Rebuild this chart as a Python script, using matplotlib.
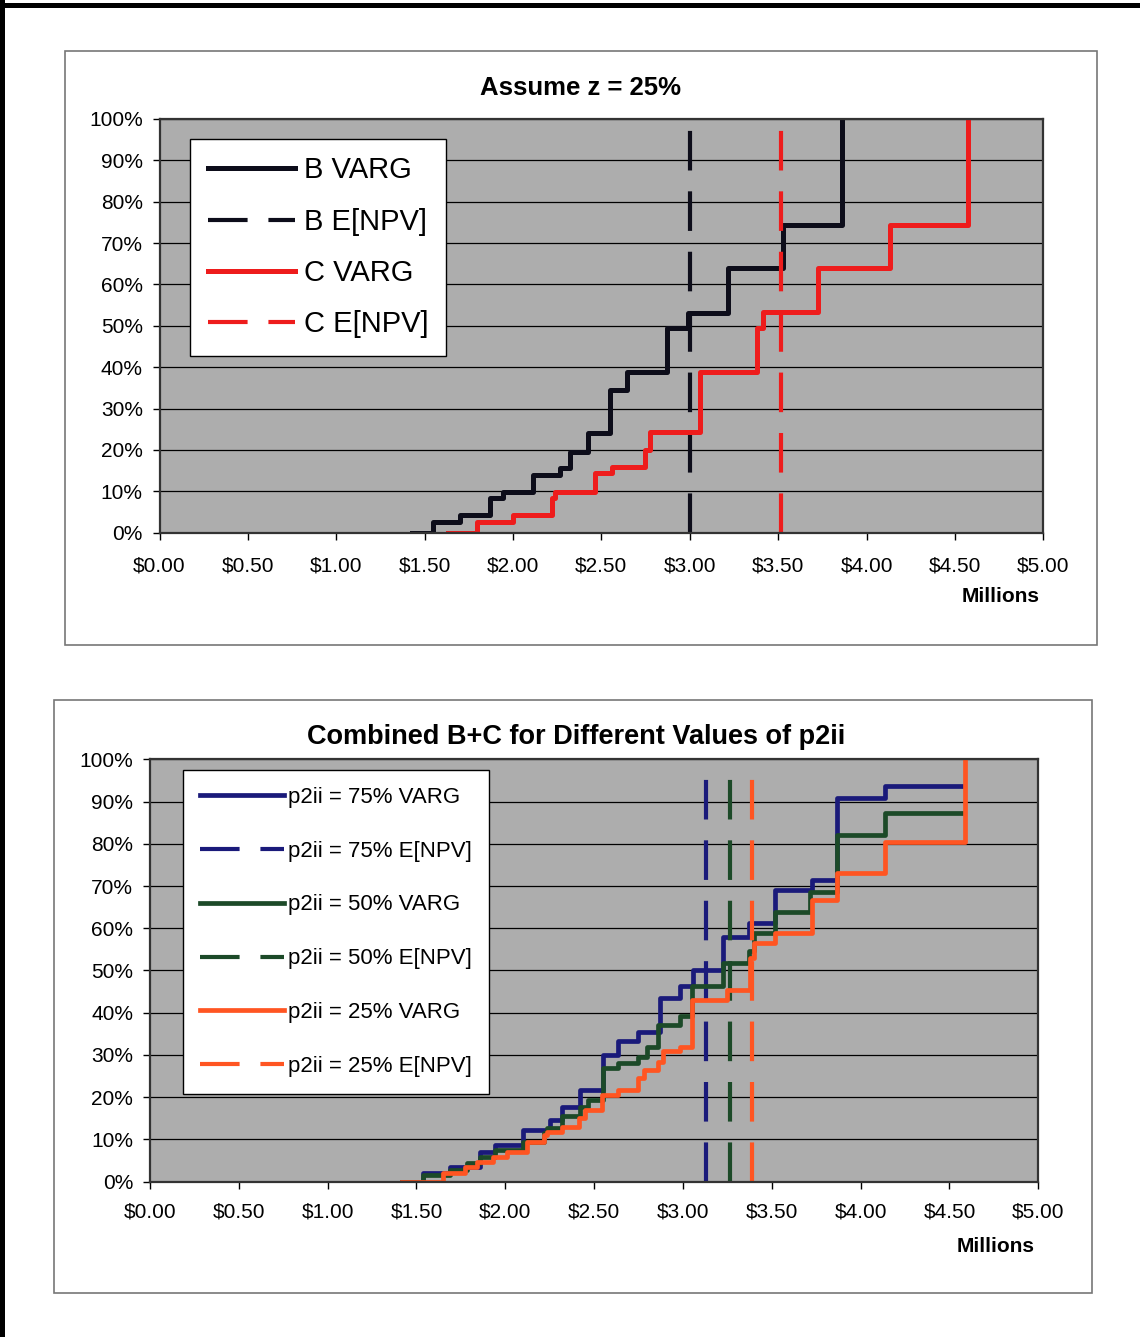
import numpy as np
import matplotlib
matplotlib.use("Agg")
import matplotlib.pyplot as plt
from matplotlib.patches import Rectangle
from matplotlib.ticker import FuncFormatter, MultipleLocator

plt.rcParams['font.family'] = ['Liberation Sans', 'DejaVu Sans']

# --------- data (values in $ millions, cumulative %) ---------
# top chart: z = 25%
b_varg_x = [1.426, 1.549, 1.700, 1.869, 1.945, 2.114, 2.265, 2.322, 2.425, 2.548,
            2.643, 2.869, 2.989, 3.217, 3.528, 3.859]
b_varg_p = [0, 2.7, 4.3, 8.3, 9.9, 13.9, 15.6, 19.6, 24.0, 34.5,
            38.9, 49.4, 53.0, 63.9, 74.4, 100]
c_varg_x = [1.633, 1.794, 2.001, 2.218, 2.237, 2.463, 2.558, 2.746, 2.774, 3.057,
            3.378, 3.415, 3.726, 4.132, 4.575]
c_varg_p = [0, 2.7, 4.3, 8.3, 9.9, 14.4, 16.0, 20.0, 24.4, 38.9,
            49.4, 53.4, 63.9, 74.4, 100]
b_enpv = 3.00
c_enpv = 3.515

# bottom chart: combined B+C
p75_x = [1.417, 1.539, 1.689, 1.858, 1.943, 2.102, 2.252, 2.318, 2.421, 2.552, 2.637,
         2.745, 2.872, 2.984, 3.059, 3.228, 3.369, 3.519, 3.726, 3.867, 4.139, 4.570]
p75_p = [0, 1.9, 3.5, 7.1, 8.6, 12.2, 14.6, 17.7, 21.7, 30.0, 33.3,
         35.5, 43.4, 46.2, 50.1, 58.0, 61.2, 69.1, 71.4, 90.8, 93.6, 93.6]
p50_x = [1.417, 1.539, 1.689, 1.783, 1.858, 1.943, 2.102, 2.215, 2.234, 2.318, 2.421,
         2.468, 2.552, 2.637, 2.749, 2.797, 2.862, 2.984, 3.050, 3.228, 3.369, 3.397,
         3.519, 3.716, 3.867, 4.139, 4.570]
p50_p = [0, 1.5, 2.7, 4.3, 5.9, 7.5, 9.4, 11.4, 12.6, 15.4, 17.7,
         19.3, 26.8, 28.0, 29.6, 31.9, 37.1, 39.1, 46.2, 51.7, 54.5, 58.8,
         63.9, 68.7, 82.1, 87.3, 87.3]
p25_x = [1.417, 1.651, 1.774, 1.840, 1.933, 2.008, 2.121, 2.215, 2.234, 2.318, 2.412,
         2.449, 2.543, 2.637, 2.749, 2.778, 2.862, 2.890, 2.984, 3.050, 3.247, 3.378,
         3.397, 3.519, 3.726, 3.867, 4.139, 4.589]
p25_p = [0, 1.9, 3.5, 4.7, 5.9, 7.1, 9.4, 11.0, 11.8, 13.0, 15.0,
         16.9, 20.5, 21.7, 24.5, 26.4, 28.4, 30.8, 31.9, 43.0, 45.4, 52.9,
         56.4, 58.8, 66.7, 73.0, 80.5, 100]
p75_enpv = 3.131
p50_enpv = 3.262
p25_enpv = 3.391

BLACK = '#0d0d1a'
RED = '#ee1c1c'
NAVY = '#1a1a7a'
GREEN = '#1c4a28'
ORANGE = '#ff5522'
GREY = '#adadad'

W, H = 1140, 1337
fig = plt.figure(figsize=(W / 100, H / 100), dpi=100)
fig.patch.set_facecolor('white')


def fx(px):
    return px / W


def fy(py):
    return 1 - py / H


# page border (top + left) and chart frames
fig.add_artist(Rectangle((0, fy(8)), 1, 5 / H, transform=fig.transFigure,
                         facecolor='black', edgecolor='none'))
fig.add_artist(Rectangle((0, 0), 5 / W, 1, transform=fig.transFigure,
                         facecolor='black', edgecolor='none'))
fig.add_artist(Rectangle((fx(65), fy(645)), (1097 - 65) / W, (645 - 51) / H,
                         transform=fig.transFigure, fill=False, edgecolor='#777777', lw=1.2))
fig.add_artist(Rectangle((fx(54), fy(1293)), (1092 - 54) / W, (1293 - 700) / H,
                         transform=fig.transFigure, fill=False, edgecolor='#777777', lw=1.2))


def style_axes(ax, xpad):
    ax.set_facecolor(GREY)
    ax.set_xlim(0, 5)
    ax.set_ylim(0, 100)
    ax.xaxis.set_major_locator(MultipleLocator(0.5))
    ax.yaxis.set_major_locator(MultipleLocator(10))
    ax.xaxis.set_major_formatter(FuncFormatter(lambda v, p: f"${v:.2f}"))
    ax.yaxis.set_major_formatter(FuncFormatter(lambda v, p: f"{v:.0f}%"))
    ax.grid(True, axis='y', color='black', lw=0.9)
    ax.set_axisbelow(True)
    for s in ax.spines.values():
        s.set_color('#333333')
        s.set_linewidth(1.6)
    ax.tick_params(axis='x', length=5, width=1, pad=xpad, labelsize=15)
    ax.tick_params(axis='y', length=5, width=1, pad=7, labelsize=15)


DASH = (9.5, 5)

# ---------------- top chart ----------------
ax1 = fig.add_axes([fx(159.5), fy(532.7), (1043.3 - 159.5) / W, (532.7 - 119) / H])
style_axes(ax1, 12)
ax1.plot(b_varg_x, b_varg_p, drawstyle='steps-post', color=BLACK, lw=3.6, label='B VARG')
ax1.plot([b_enpv, b_enpv], [0, 100], color=BLACK, lw=3.0, dashes=DASH, label='B E[NPV]')
ax1.plot(c_varg_x, c_varg_p, drawstyle='steps-post', color=RED, lw=3.6, label='C VARG')
ax1.plot([c_enpv, c_enpv], [0, 100], color=RED, lw=3.0, dashes=DASH, label='C E[NPV]')
leg1 = ax1.legend(loc='upper left', bbox_to_anchor=(fx(190), fy(139)),
                  bbox_transform=fig.transFigure, borderaxespad=0, fontsize=21,
                  handlelength=3.0, handletextpad=0.3, labelspacing=0.8,
                  borderpad=0.6, fancybox=False, framealpha=1, edgecolor='black')
leg1.get_frame().set_linewidth(1.0)

fig.text(fx(581), fy(88), 'Assume z = 25%', ha='center', va='center',
         fontsize=18.5, fontweight='bold')
fig.text(fx(1040), fy(597), 'Millions', ha='right', va='center',
         fontsize=15, fontweight='bold')

# ---------------- bottom chart ----------------
ax2 = fig.add_axes([fx(150), fy(1181.5), (1038.3 - 150) / W, (1181.5 - 759.4) / H])
style_axes(ax2, 10)
ax2.plot(p75_x, p75_p, drawstyle='steps-post', color=NAVY, lw=3.4, label='p2ii = 75% VARG')
ax2.plot([p75_enpv, p75_enpv], [0, 100], color=NAVY, lw=3.0, dashes=DASH,
         label='p2ii = 75% E[NPV]')
ax2.plot(p50_x, p50_p, drawstyle='steps-post', color=GREEN, lw=3.4, label='p2ii = 50% VARG')
ax2.plot([p50_enpv, p50_enpv], [0, 100], color=GREEN, lw=3.0, dashes=DASH,
         label='p2ii = 50% E[NPV]')
ax2.plot(p25_x, p25_p, drawstyle='steps-post', color=ORANGE, lw=3.4, label='p2ii = 25% VARG')
ax2.plot([p25_enpv, p25_enpv], [0, 100], color=ORANGE, lw=3.0, dashes=DASH,
         label='p2ii = 25% E[NPV]')
leg2 = ax2.legend(loc='upper left', bbox_to_anchor=(fx(183), fy(770)),
                  bbox_transform=fig.transFigure, borderaxespad=0, fontsize=16,
                  handlelength=3.8, handletextpad=0.18, labelspacing=1.48,
                  borderpad=0.75, fancybox=False, framealpha=1, edgecolor='black')
leg2.get_frame().set_linewidth(1.0)

fig.text(fx(576), fy(737), 'Combined B+C for Different Values of p2ii', ha='center',
         va='center', fontsize=19.5, fontweight='bold')
fig.text(fx(1035), fy(1246), 'Millions', ha='right', va='center',
         fontsize=15, fontweight='bold')

fig.savefig('out.png', dpi=100, facecolor='white')
